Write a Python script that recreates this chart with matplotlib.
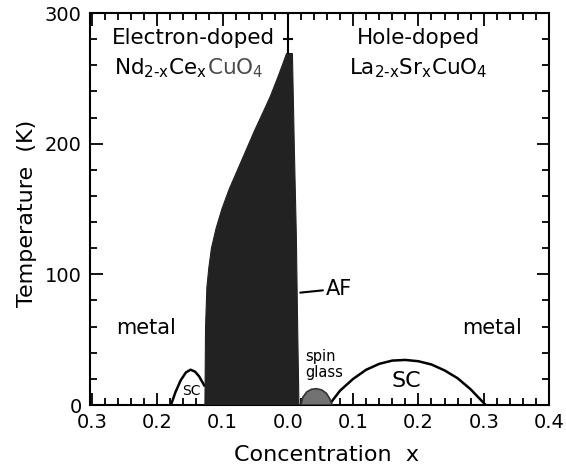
import numpy as np
import matplotlib.pyplot as plt
from matplotlib.ticker import MultipleLocator

# doping axis: negative = electron-doped (NCCO), positive = hole-doped (LSCO)
xticks = [-0.3, -0.2, -0.1, 0.0, 0.1, 0.2, 0.3, 0.4]
xtick_labels = ["0.3", "0.2", "0.1", "0.0", "0.1", "0.2", "0.3", "0.4"]
yticks = [0, 100, 200, 300]

# antiferromagnetic region boundary (x, T_N)
af_x = [-0.127, -0.126, -0.124, -0.121, -0.117, -0.110, -0.101, -0.090, -0.077, -0.064,
        -0.051, -0.038, -0.027, -0.016, -0.007, -0.002, 0.007, 0.010, 0.013, 0.015, 0.017]
af_T = [0, 60, 90, 105, 120, 135, 150, 165, 180, 195,
        210, 224, 236, 250, 262, 269, 269, 195, 130, 60, 0]

# superconducting dome, electron-doped side
sc_e_x = [-0.179, -0.172, -0.164, -0.156, -0.149, -0.142, -0.136, -0.128]
sc_e_T = [0, 10, 19, 25, 27, 25.5, 22, 15]

# superconducting dome, hole-doped side
sc_h_x = [0.063, 0.08, 0.10, 0.12, 0.14, 0.16, 0.18, 0.20, 0.22, 0.24, 0.26, 0.28, 0.303]
sc_h_T = [0, 11, 20, 27, 31.5, 34, 34.5, 33.5, 31, 26.5, 20.5, 12, 0]

# spin glass pocket
sg_x = [0.020, 0.023, 0.029, 0.036, 0.044, 0.052, 0.059, 0.064, 0.068]
sg_T = [0, 6, 10, 12, 12.5, 11.5, 9, 5, 0]

fig = plt.figure(figsize=(5.66, 4.65), dpi=100)
ax = fig.add_axes([0.159, 0.129, 0.811, 0.843])

ax.plot(sc_e_x, sc_e_T, color="black", lw=1.8, zorder=2)
ax.plot(sc_h_x, sc_h_T, color="black", lw=1.8, zorder=2)
ax.fill(sg_x, sg_T, facecolor="#727272", edgecolor="#333333", lw=1.2, zorder=3)
ax.fill(af_x, af_T, facecolor="#222222", edgecolor="#222222", lw=0.8, zorder=4)

# x = 0 divider above the AF top
ax.vlines(0, max(af_T), 300, color="black", lw=1.5, zorder=5)
ax.plot([0, 0], [280, 300], ls="none", marker="_", ms=7, mew=1.5, color="black", zorder=5)

ax.set_xlim(-0.303, 0.4)
ax.set_ylim(0, 300)
ax.set_xticks(xticks)
ax.set_xticklabels(xtick_labels)
ax.set_yticks(yticks)
ax.xaxis.set_minor_locator(MultipleLocator(0.02))
ax.yaxis.set_minor_locator(MultipleLocator(20))
ax.tick_params(which="both", direction="in", top=True, right=True, width=1.3,
               labelsize=14, pad=6)
ax.tick_params(which="major", length=9)
ax.tick_params(which="minor", length=5)
for sp in ax.spines.values():
    sp.set_linewidth(1.5)

ax.set_xlabel("Concentration  x", fontsize=16)
ax.set_ylabel("Temperature  (K)", fontsize=16)
ax.xaxis.set_label_coords(0.515, -0.103)
ax.yaxis.set_label_coords(-0.116, 0.49)

ax.text(-0.145, 281, "Electron-doped", fontsize=15.5, ha="center", va="center", zorder=6)
ax.text(-0.124, 258, r"Nd$_{\mathregular{2\text{-}x}}$Ce$_{\mathregular{x}}$",
        fontsize=15.5, ha="right", va="center", zorder=6)
ax.text(-0.124, 258, r"CuO$_{\mathregular{4}}$", fontsize=15.5, ha="left",
        va="center", color="#4a4a4a", zorder=6)
ax.text(0.2, 281, "Hole-doped", fontsize=15.5, ha="center", va="center", zorder=6)
ax.text(0.2, 258, r"La$_{\mathregular{2\text{-}x}}$Sr$_{\mathregular{x}}$CuO$_{\mathregular{4}}$",
        fontsize=15.5, ha="center", va="center", zorder=6)

ax.text(-0.217, 59, "metal", fontsize=15, ha="center", va="center")
ax.text(0.313, 59, "metal", fontsize=15, ha="center", va="center")
ax.text(0.181, 18, "SC", fontsize=16, ha="center", va="center")
ax.text(-0.148, 11, "SC", fontsize=10, ha="center", va="center", zorder=1)
ax.text(0.027, 31, "spin\nglass", fontsize=10.5, ha="left", va="center", linespacing=1.1)
ax.annotate("AF", xy=(0.019, 86), xytext=(0.058, 89), fontsize=15, ha="left", va="center",
            arrowprops=dict(arrowstyle="-", color="black", lw=1.5, shrinkA=0, shrinkB=0))

fig.savefig("out.png", dpi=100)
